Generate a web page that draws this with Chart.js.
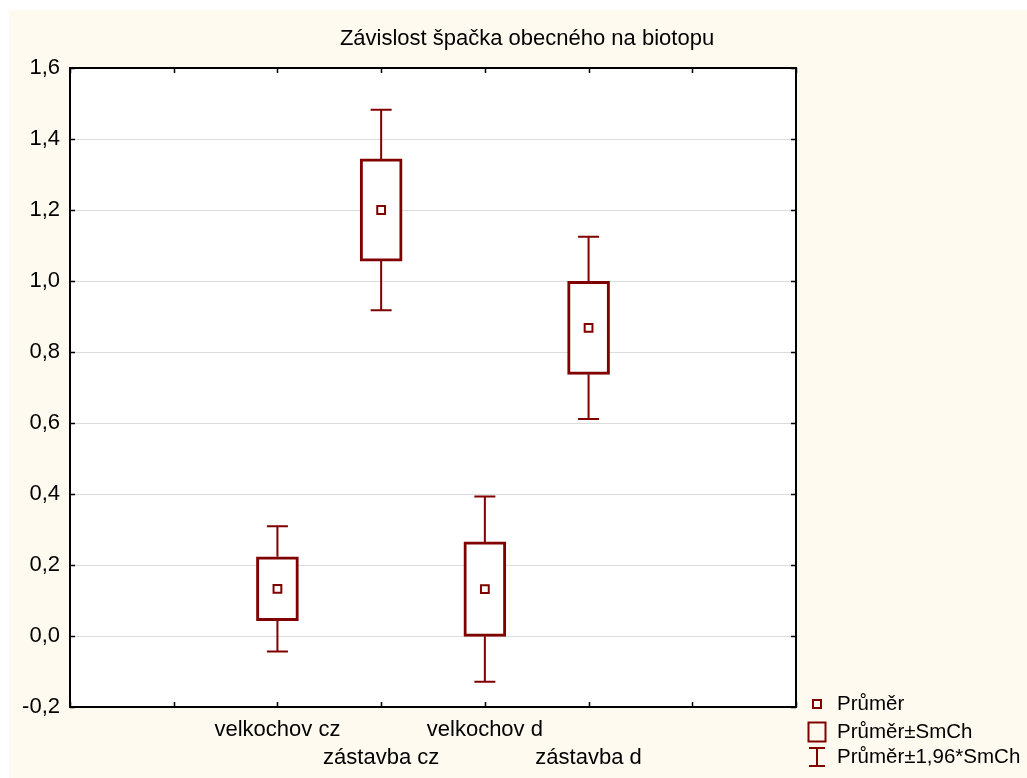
<!DOCTYPE html>
<html>
<head>
<meta charset="utf-8">
<script src="https://cdn.jsdelivr.net/npm/chart.js@4"></script>
<style>
  html, body { margin: 0; padding: 0; background: #ffffff; }
  #wrap { position: absolute; left: 0; top: 0; width: 1027px; height: 778px; }
</style>
</head>
<body>
<div id="wrap"><canvas id="biotopChart" width="1027" height="778"></canvas></div>
<script>
// Závislost špačka obecného na biotopu - průměr, ±SmCh, ±1,96*SmCh

var categories = ['velkochov cz', 'zástavba cz', 'velkochov d', 'zástavba d'];
var means = [0.133, 1.200, 0.132, 0.868];
var stdErrors = [0.090, 0.144, 0.133, 0.131];
var yTicks = [-0.2, 0.0, 0.2, 0.4, 0.6, 0.8, 1.0, 1.2, 1.4, 1.6];
var legendLabels = ['Průměr', 'Průměr±SmCh', 'Průměr±1,96*SmCh'];

var darkRed = '#800000';
var fontFamily = '"Liberation Sans", Arial, sans-serif';
var firstPos = 2; // categories sit on x = 2..5 of a 0..7 axis

var boxData = categories.map(function(c, i) {
    return { x: i + firstPos, y: [means[i] - stdErrors[i], means[i] + stdErrors[i]] };
});
var meanData = categories.map(function(c, i) {
    return { x: i + firstPos, y: means[i] };
});

function xLabel(value) {
    var i = value - firstPos;
    if (i < 0 || i >= categories.length) return '';
    // every second label goes to the lower row
    return i % 2 === 0 ? categories[i] : ['', categories[i]];
}

// cream page, white plot area
var backdrop = {
    id: 'backdrop',
    beforeDraw: function(chart) {
        var ctx = chart.ctx, a = chart.chartArea;
        ctx.save();
        ctx.fillStyle = '#FFFAF0';
        ctx.fillRect(9, 10, chart.width - 9, chart.height - 10);
        ctx.fillStyle = '#ffffff';
        ctx.fillRect(a.left, a.top, a.right - a.left, a.bottom - a.top);
        ctx.restore();
    }
};

// whiskers at ±1,96*SmCh
var whiskers = {
    id: 'whiskers',
    afterDatasetsDraw: function(chart) {
        var ctx = chart.ctx;
        var xs = chart.scales.x, ys = chart.scales.y;
        ctx.save();
        ctx.strokeStyle = darkRed;
        ctx.lineWidth = 2;
        for (var i = 0; i < categories.length; i++) {
            var px = xs.getPixelForValue(i + firstPos);
            var ends = [
                [means[i] + stdErrors[i], means[i] + 1.96 * stdErrors[i]],
                [means[i] - stdErrors[i], means[i] - 1.96 * stdErrors[i]]
            ];
            ends.forEach(function(e) {
                var y0 = ys.getPixelForValue(e[0]);
                var y1 = ys.getPixelForValue(e[1]);
                ctx.beginPath();
                ctx.moveTo(px, y0);
                ctx.lineTo(px, y1);
                ctx.moveTo(px - 10.5, y1);
                ctx.lineTo(px + 10.5, y1);
                ctx.stroke();
            });
        }
        ctx.restore();
    }
};

// frame, inward ticks, title and legend
var decorations = {
    id: 'decorations',
    afterDraw: function(chart) {
        var ctx = chart.ctx, a = chart.chartArea;
        var xs = chart.scales.x, ys = chart.scales.y;
        ctx.save();
        ctx.strokeStyle = '#000000';
        ctx.lineWidth = 1.5;
        ctx.beginPath();
        ys.ticks.forEach(function(t) {
            var py = Math.round(ys.getPixelForValue(t.value)) + 0.5;
            ctx.moveTo(a.left, py); ctx.lineTo(a.left + 5, py);
            ctx.moveTo(a.right, py); ctx.lineTo(a.right - 5, py);
        });
        xs.ticks.forEach(function(t) {
            var px = Math.round(xs.getPixelForValue(t.value)) + 0.5;
            ctx.moveTo(px, a.bottom); ctx.lineTo(px, a.bottom - 5);
            ctx.moveTo(px, a.top); ctx.lineTo(px, a.top + 5);
        });
        ctx.stroke();

        ctx.lineWidth = 2;
        ctx.strokeRect(a.left, a.top, a.right - a.left, a.bottom - a.top);

        // title
        ctx.fillStyle = '#000000';
        ctx.font = '22px ' + fontFamily;
        ctx.textAlign = 'center';
        ctx.textBaseline = 'middle';
        ctx.fillText('Závislost špačka obecného na biotopu', 527, 39);

        // legend
        ctx.font = '20.5px ' + fontFamily;
        ctx.textAlign = 'left';
        var lx = 817, tx = 837;
        var rows = [704, 732, 757];
        ctx.strokeStyle = darkRed;

        ctx.lineWidth = 2;
        ctx.fillStyle = '#ffffff';
        ctx.fillRect(lx - 4, rows[0] - 4, 8, 8);
        ctx.strokeRect(lx - 4, rows[0] - 4, 8, 8);

        ctx.lineWidth = 2;
        ctx.strokeRect(lx - 8.5, rows[1] - 9.5, 17, 19);

        ctx.beginPath();
        ctx.moveTo(lx, rows[2] - 9); ctx.lineTo(lx, rows[2] + 9);
        ctx.moveTo(lx - 8, rows[2] - 9); ctx.lineTo(lx + 8, rows[2] - 9);
        ctx.moveTo(lx - 8, rows[2] + 9); ctx.lineTo(lx + 8, rows[2] + 9);
        ctx.stroke();

        ctx.fillStyle = '#000000';
        legendLabels.forEach(function(l, i) {
            ctx.fillText(l, tx, rows[i]);
        });
        ctx.restore();
    }
};

new Chart('biotopChart', {
    data: {
        datasets: [{
            type: 'bar',
            label: legendLabels[1],
            data: boxData,
            backgroundColor: '#ffffff',
            borderColor: darkRed,
            borderWidth: 3,
            borderSkipped: false,
            barThickness: 42,
            order: 2
        }, {
            type: 'scatter',
            label: legendLabels[0],
            data: meanData,
            pointStyle: 'rect',
            pointRadius: 5.5,
            pointHoverRadius: 5.5,
            pointBackgroundColor: '#ffffff',
            pointBorderColor: darkRed,
            pointBorderWidth: 2,
            order: 1
        }]
    },
    options: {
        responsive: false,
        animation: false,
        events: [],
        layout: { padding: { top: 68, right: 231, left: 0, bottom: 0 } },
        plugins: {
            legend: { display: false },
            title: { display: false },
            tooltip: { enabled: false }
        },
        scales: {
            x: {
                type: 'linear',
                min: 0,
                max: 7,
                offset: false,
                afterFit: function(scale) { scale.height = 71; },
                grid: { display: false, drawTicks: false },
                border: { display: false },
                ticks: {
                    stepSize: 1,
                    autoSkip: false,
                    maxRotation: 0,
                    padding: 9,
                    color: '#000000',
                    font: { family: fontFamily, size: 22, lineHeight: 1.27 },
                    callback: xLabel
                }
            },
            y: {
                min: yTicks[0],
                max: yTicks[yTicks.length - 1],
                afterFit: function(scale) { scale.width = 70; },
                afterBuildTicks: function(scale) {
                    scale.ticks = yTicks.map(function(v) { return { value: v }; });
                },
                grid: { color: '#dcdcdc', lineWidth: 1, drawTicks: false },
                border: { display: false },
                ticks: {
                    padding: 10,
                    color: '#000000',
                    font: { family: fontFamily, size: 22 },
                    callback: function(v) { return v.toFixed(1).replace('.', ','); }
                }
            }
        }
    },
    plugins: [backdrop, whiskers, decorations]
});
</script>
</body>
</html>
